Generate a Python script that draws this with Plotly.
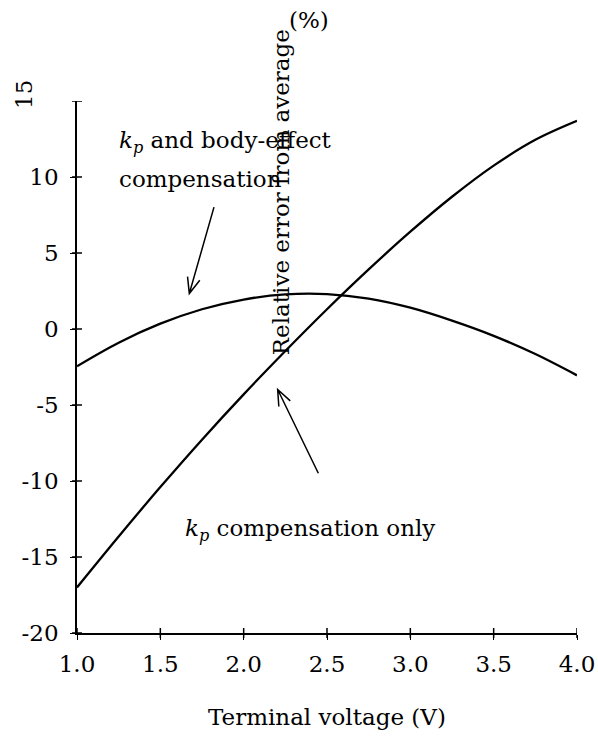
import math
import plotly.graph_objects as go

# Terminal voltage samples (V)
voltage = [1.0, 1.25, 1.5, 1.75, 2.0, 2.25, 2.5, 2.75, 3.0, 3.25, 3.5, 3.75, 4.0]
# Relative error from average (%), kp compensation only
err_kp_only = [-17.0, -13.65, -10.4, -7.28, -4.3, -1.45, 1.3, 3.92, 6.4, 8.7, 10.75, 12.45, 13.7]
# Relative error from average (%), kp and body-effect compensation
err_kp_body = [-2.45, -0.9, 0.35, 1.3, 1.94, 2.28, 2.30, 2.0, 1.4, 0.55, -0.45, -1.65, -3.05]

x_ticks = [1.0, 1.5, 2.0, 2.5, 3.0, 3.5, 4.0]
x_ticktext = ["1.0", "1.5", "2.0", "2.5", "3.0", "3.5", "4.0"]
y_ticks = [-20, -15, -10, -5, 0, 5, 10]
y_ticktext = ["-20", "-15", "-10", "-5", "0", "5", "10"]
y_top = 15  # top tick, labelled separately

X_RANGE = [1.0, 4.0]
Y_RANGE = [-20, 15]

W, H = 598, 742
M = dict(l=77, r=21, t=101, b=109)
FONT = "DejaVu Serif"
FS = 23

plot_w = W - M["l"] - M["r"]
plot_h = H - M["t"] - M["b"]
sx = plot_w / (X_RANGE[1] - X_RANGE[0])  # px per volt
sy = plot_h / (Y_RANGE[1] - Y_RANGE[0])  # px per percent

fig = go.Figure()
for ys in (err_kp_only, err_kp_body):
    fig.add_trace(go.Scatter(x=voltage, y=ys, mode="lines",
                             line=dict(color="black", width=2.3, shape="spline"),
                             showlegend=False, hoverinfo="skip"))

TICK = dict(color="black", width=1.5)
shapes = []
# crossing tick marks (5 px either side of the axis line)
for v in x_ticks:
    shapes.append(dict(type="line", xref="x", x0=v, x1=v, yref="paper",
                       ysizemode="pixel", yanchor=0, y0=-5, y1=5, line=TICK))
for v in y_ticks + [y_top]:
    shapes.append(dict(type="line", yref="y", y0=v, y1=v, xref="paper",
                       xsizemode="pixel", xanchor=0, x0=-5, x1=5, line=TICK))


def arrow(tail, tip, head=17, half_angle=22):
    """Open V-headed arrow as an SVG path in data coordinates."""
    dx = (tip[0] - tail[0]) * sx
    dy = (tip[1] - tail[1]) * sy
    L = math.hypot(dx, dy)
    ux, uy = dx / L, dy / L
    pts = []
    for s in (1, -1):
        a = math.radians(half_angle) * s
        rx = ux * math.cos(a) - uy * math.sin(a)
        ry = ux * math.sin(a) + uy * math.cos(a)
        pts.append((tip[0] - rx * head / sx, tip[1] - ry * head / sy))
    path = (f"M{tail[0]},{tail[1]} L{tip[0]},{tip[1]} "
            f"M{pts[0][0]},{pts[0][1]} L{tip[0]},{tip[1]} L{pts[1][0]},{pts[1][1]}")
    return dict(type="path", xref="x", yref="y", path=path,
                line=dict(color="black", width=1.5))


shapes.append(arrow((1.822, 8.02), (1.674, 2.33)))
shapes.append(arrow((2.448, -9.49), (2.204, -3.98)))

tf = dict(family=FONT, size=FS, color="black")
annotations = [
    dict(text="<i>k</i><sub><i>p</i></sub> and body-effect", x=1.24, y=12.3,
         xref="x", yref="y", xanchor="left", yanchor="middle", showarrow=False, font=tf),
    dict(text="compensation", x=1.24, y=9.9,
         xref="x", yref="y", xanchor="left", yanchor="middle", showarrow=False, font=tf),
    dict(text="<i>k</i><sub><i>p</i></sub> compensation only", x=1.636, y=-13.2,
         xref="x", yref="y", xanchor="left", yanchor="middle", showarrow=False, font=tf),
    dict(text="Relative error from average", textangle=-90, x=2.224, y=9.0,
         xref="x", yref="y", xanchor="center", yanchor="middle", showarrow=False, font=tf),
    dict(text="(%)", x=2.392, y=1.152, xref="x", yref="paper",
         xanchor="center", yanchor="middle", showarrow=False, font=tf),
    dict(text=str(y_top), textangle=-90, x=0, y=y_top, xref="paper", yref="y",
         xshift=-53, yshift=6, xanchor="center", yanchor="middle",
         showarrow=False, font=tf),
    dict(text="Terminal voltage (V)", x=0.5, y=-0.158, xref="paper", yref="paper",
         xanchor="center", yanchor="middle", showarrow=False, font=tf),
]

axis_common = dict(showgrid=False, zeroline=False, showline=True, linecolor="black",
                   linewidth=1.5, ticks="outside", ticklen=5, tickwidth=0.01,
                   tickcolor="black", tickfont=tf, automargin=False)

fig.update_layout(
    width=W, height=H, margin=M,
    paper_bgcolor="white", plot_bgcolor="white",
    font=tf, showlegend=False,
    xaxis=dict(range=X_RANGE, tickmode="array", tickvals=x_ticks, ticktext=x_ticktext,
               ticklabelstandoff=5, **axis_common),
    yaxis=dict(range=Y_RANGE, tickmode="array", tickvals=y_ticks, ticktext=y_ticktext,
               ticklabelstandoff=7, **axis_common),
    shapes=shapes, annotations=annotations,
)

fig.write_html("out.html")
